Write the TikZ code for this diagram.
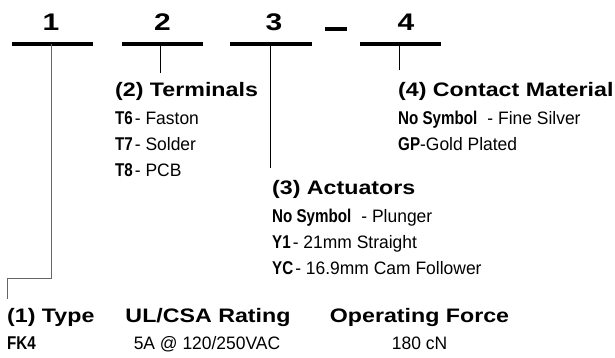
\documentclass[tikz,border=0pt]{standalone}
\usepackage{fontspec}
\setmainfont{Liberation Sans}
\newfontfamily\hfont[FakeStretch=1.19]{Liberation Sans}
\newfontfamily\dfont[FakeStretch=1.25]{Liberation Sans}
\newfontfamily\lfont[FakeStretch=0.82]{Liberation Sans}
\newfontfamily\bfont[FakeStretch=0.97]{Liberation Sans}
\newcommand{\lbl}[1]{{\lfont\bfseries\fontsize{18.5}{21}\selectfont #1}}
\tikzset{
 digit/.style={anchor=base, inner sep=0pt, font=\dfont\bfseries\fontsize{24}{28}\selectfont},
 head/.style={anchor=base west, inner sep=0pt, font=\hfont\bfseries\fontsize{19.5}{22}\selectfont},
 headc/.style={head, anchor=base},
 body/.style={anchor=base west, inner sep=0pt, font=\bfont\fontsize{18}{21}\selectfont},
 bodyc/.style={body, anchor=base},
 uline/.style={line width=3.5pt},
 lead/.style={line width=0.9pt, black},
 leadgray/.style={line width=1pt, black!60},
}
\begin{document}
\begin{tikzpicture}[x=1pt,y=-1pt]
\useasboundingbox (0,0) rectangle (615,358);
% digits
\node[digit] (d1) at (51,31) {1};
\node[digit] (d2) at (162.5,31) {2};
\node[digit] (d3) at (274,31) {3};
\node[digit] (d4) at (406,31) {4};
% underlines
\coordinate (u1a) at (12,44);  \coordinate (u1b) at (93,44);
\coordinate (u2a) at (122,44); \coordinate (u2b) at (203,44);
\coordinate (u3a) at (230,44); \coordinate (u3b) at (312,44);
\coordinate (u4a) at (360,44); \coordinate (u4b) at (441,44);
\draw[uline] (u1a) -- (u1b);
\draw[uline] (u2a) -- (u2b);
\draw[uline] (u3a) -- (u3b);
\draw[uline] (u4a) -- (u4b);
% dash
\coordinate (dsa) at (325,29); \coordinate (dsb) at (347,29);
\draw[line width=4.5pt] (dsa) -- (dsb);
% (2) Terminals
\node[head] (h2) at (115,97) {(2) Terminals};
\node[body] (t6) at (115,125) {\lbl{T6}\kern2pt- Faston};
\node[body] (t7) at (115,151) {\lbl{T7}\kern2pt- Solder};
\node[body] (t8) at (115,177) {\lbl{T8}\kern2pt- PCB};
% (4) Contact Material
\node[head] (h4) at (398,97) {(4) Contact Material};
\node[body] (c1) at (398,125) {\lbl{No Symbol}\hspace{10pt}- Fine Silver};
\node[body] (c2) at (398,151) {\lbl{GP}-Gold Plated};
% (3) Actuators
\node[head] (h3) at (272,194) {(3) Actuators};
\node[body] (a1) at (272,222) {\lbl{No Symbol}\hspace{10pt}- Plunger};
\node[body] (a2) at (272,248) {\lbl{Y1}\kern2pt- 21mm Straight};
\node[body] (a3) at (272,274) {\lbl{YC}\kern2pt- 16.9mm Cam Follower};
% bottom row
\node[head] (h1) at (7,322) {(1) Type};
\node[body] (f1) at (7,349) {\lbl{FK4}};
\node[headc] (hr) at (208,322) {UL/CSA Rating};
\node[bodyc] (r1) at (207,349) {5A @ 120/250VAC};
\node[headc] (hf) at (419.5,322) {Operating Force};
\node[bodyc] (fv) at (419.5,349) {180 cN};
% leaders
\coordinate (l1a) at (51,44);
\coordinate (l1b) at (51,278);
\coordinate (l1c) at (7,278);
\coordinate (l1d) at (7,299);
\draw[leadgray] (l1a) -- (l1b) -- (l1c) -- (l1d);
\coordinate (l2a) at (160,44); \coordinate (l2b) at (160,73);
\draw[lead] (l2a) -- (l2b);
\coordinate (l3a) at (270,44); \coordinate (l3b) at (270,168);
\draw[lead] (l3a) -- (l3b);
\coordinate (l4a) at (399,44); \coordinate (l4b) at (399,70);
\draw[lead] (l4a) -- (l4b);
\end{tikzpicture}
\end{document}
